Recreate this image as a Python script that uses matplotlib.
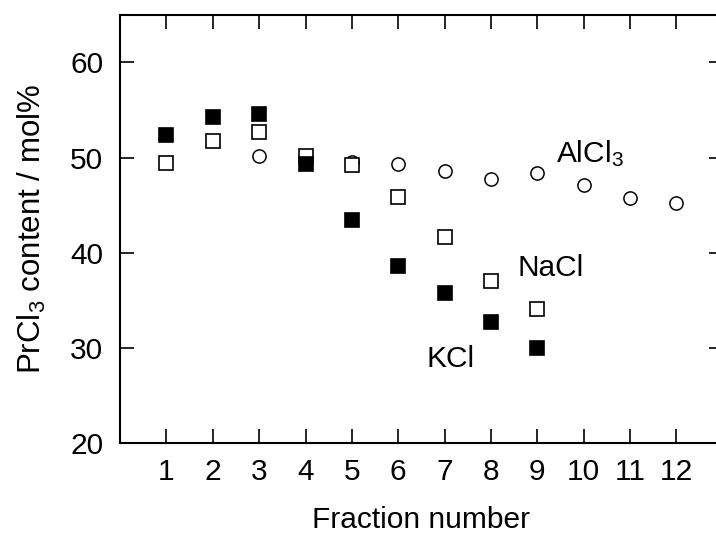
import matplotlib
matplotlib.use("Agg")
import matplotlib.pyplot as plt

plt.rcParams['font.family'] = ['Liberation Sans', 'DejaVu Sans']
plt.rcParams['mathtext.fontset'] = 'custom'
plt.rcParams['mathtext.rm'] = 'Liberation Sans'
plt.rcParams['mathtext.it'] = 'Liberation Sans'

# fraction numbers and PrCl3 content (mol%)
alcl3_x = [3, 5, 6, 7, 8, 9, 10, 11, 12]
alcl3_y = [50.2, 49.5, 49.3, 48.6, 47.7, 48.4, 47.1, 45.8, 45.2]

nacl_x = [1, 2, 3, 4, 5, 6, 7, 8, 9]
nacl_y = [49.4, 51.7, 52.7, 50.2, 49.2, 45.9, 41.7, 37.0, 34.1]

kcl_x = [1, 2, 3, 4, 5, 6, 7, 8, 9]
kcl_y = [52.4, 54.3, 54.6, 49.3, 43.4, 38.6, 35.8, 32.7, 30.0]

xticks = list(range(1, 13))
yticks = [20, 30, 40, 50, 60]

fs = 21.5

fig = plt.figure(figsize=(7.16, 5.33), dpi=100)
ax = fig.add_axes([0.1676, 0.169, 0.842, 0.803])

ax.plot(alcl3_x, alcl3_y, 'o', ms=9.5, mfc='white', mec='black', mew=1.1, ls='none', zorder=2)
ax.plot(nacl_x, nacl_y, 's', ms=9.5, mfc='white', mec='black', mew=1.2, ls='none', zorder=3)
ax.plot(kcl_x, kcl_y, 's', ms=9.5, mfc='black', mec='black', mew=1.2, ls='none', zorder=4)

ax.text(9.41, 49.5, r'AlCl$_3$', fontsize=fs, ha='left', va='baseline')
ax.text(8.57, 37.5, 'NaCl', fontsize=fs, ha='left', va='baseline')
ax.text(6.61, 28.0, 'KCl', fontsize=fs, ha='left', va='baseline')

ax.set_xlim(0, 13)
ax.set_ylim(20, 65)
ax.set_xticks(xticks)
ax.set_yticks(yticks)
ax.tick_params(direction='in', length=10, width=1.2, labelsize=fs,
               top=True, right=True)
ax.tick_params(axis='x', pad=11)
ax.tick_params(axis='y', pad=12)
for s in ax.spines.values():
    s.set_linewidth(1.5)

ax.set_xlabel('Fraction number', fontsize=fs, labelpad=14)
ax.set_ylabel(r'PrCl$_3$ content / mol%', fontsize=22.5, labelpad=16)

fig.savefig('out.png', dpi=100)
